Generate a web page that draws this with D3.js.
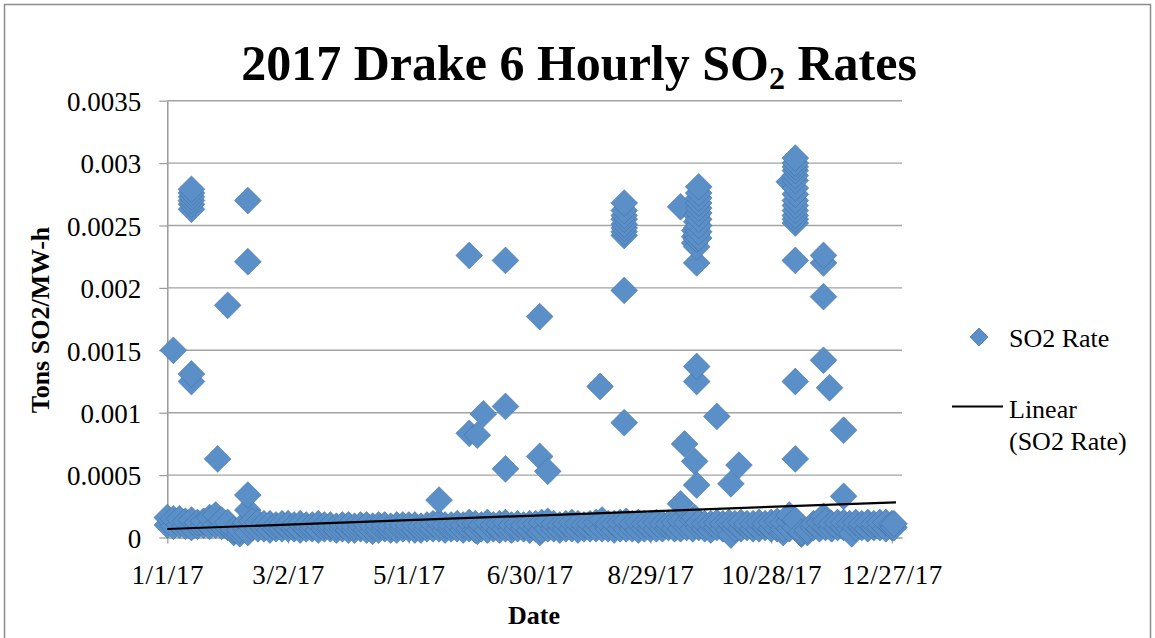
<!DOCTYPE html>
<html>
<head>
<meta charset="utf-8">
<script src="https://cdn.jsdelivr.net/npm/d3@7"></script>
<style>
  html, body { margin: 0; padding: 0; background: #ffffff; }
  svg { display: block; }
  text { font-family: "Liberation Serif", "Times New Roman", serif; fill: #000; }
</style>
</head>
<body>
<svg id="chart" width="1155" height="638"></svg>
<script>
// ---- Axis ticks ----
const yTicks = [0, 0.0005, 0.001, 0.0015, 0.002, 0.0025, 0.003, 0.0035];
const yTickLabels = ["0", "0.0005", "0.001", "0.0015", "0.002", "0.0025", "0.003", "0.0035"];
const xTickLabels = ["1/1/17", "3/2/17", "5/1/17", "6/30/17", "8/29/17", "10/28/17", "12/27/17"];

// ---- Routine hourly readings (upper / lower edge of the daily spread) ----
const bandDates = [
  "1/1","1/4","1/7","1/10","1/13","1/16","1/19","1/22","1/25","1/28","1/31",
  "2/3","2/6","2/9","2/12","2/15","2/18","2/21","2/24","2/27",
  "3/2","3/5","3/8","3/11","3/14","3/17","3/20","3/23","3/26","3/29",
  "4/1","4/4","4/7","4/10","4/13","4/16","4/19","4/22","4/25","4/28",
  "5/1","5/4","5/7","5/10","5/13","5/16","5/19","5/22","5/25","5/28","5/31",
  "6/3","6/6","6/9","6/12","6/15","6/18","6/21","6/24","6/27","6/30",
  "7/3","7/6","7/9","7/12","7/15","7/18","7/21","7/24","7/27","7/30",
  "8/2","8/5","8/8","8/11","8/14","8/17","8/20","8/23","8/26","8/29",
  "9/1","9/4","9/7","9/10","9/13","9/16","9/19","9/22","9/25","9/28",
  "10/1","10/4","10/7","10/10","10/13","10/16","10/19","10/22","10/25","10/28","10/31",
  "11/3","11/6","11/9","11/12","11/15","11/18","11/21","11/24","11/27","11/30",
  "12/3","12/6","12/9","12/12","12/15","12/18","12/21","12/24","12/27","12/28"
];
const bandUpper = [
  0.00016,0.00015,0.00015,0.00013,0.00014,0.00012,0.00013,0.00016,0.00018,0.00014,0.00012,
  0.00006,0.00006,0.00012,0.00013,0.00012,0.00011,0.00011,0.00010,0.00011,
  0.00011,0.00010,0.00011,0.00010,0.00010,0.00011,0.00010,0.00010,0.00009,0.00010,
  0.00010,0.00009,0.00010,0.00010,0.00009,0.00010,0.00010,0.00009,0.00010,0.00010,
  0.00010,0.00010,0.00009,0.00010,0.00011,0.00012,0.00010,0.00010,0.00011,0.00010,0.00012,
  0.00011,0.00010,0.00012,0.00010,0.00011,0.00012,0.00010,0.00011,0.00010,0.00011,
  0.00011,0.00012,0.00013,0.00011,0.00010,0.00011,0.00012,0.00011,0.00010,0.00011,
  0.00012,0.00014,0.00011,0.00011,0.00012,0.00013,0.00011,0.00012,0.00011,0.00011,
  0.00012,0.00011,0.00011,0.00012,0.00013,0.00012,0.00014,0.00012,0.00011,0.00011,
  0.00012,0.00011,0.00012,0.00011,0.00012,0.00011,0.00011,0.00012,0.00011,0.00012,0.00013,
  0.00012,0.00013,0.00014,0.00004,0.00006,0.00011,0.00012,0.00013,0.00011,0.00012,
  0.00012,0.00011,0.00012,0.00011,0.00012,0.00011,0.00012,0.00012,0.00011,0.00011
];
const bandLower = [
  0.00010,0.00009,0.00010,0.00009,0.00008,0.00009,0.00010,0.00009,0.00010,0.00009,0.00008,
  0.00004,0.00003,0.00007,0.00008,0.00007,0.00007,0.00006,0.00007,0.00007,
  0.00007,0.00007,0.00006,0.00007,0.00007,0.00006,0.00007,0.00007,0.00006,0.00007,
  0.00006,0.00006,0.00007,0.00006,0.00005,0.00006,0.00007,0.00006,0.00006,0.00007,
  0.00007,0.00006,0.00006,0.00007,0.00007,0.00007,0.00006,0.00007,0.00007,0.00006,0.00007,
  0.00006,0.00007,0.00006,0.00007,0.00006,0.00007,0.00006,0.00007,0.00007,0.00006,
  0.00007,0.00006,0.00007,0.00007,0.00006,0.00007,0.00007,0.00006,0.00007,0.00007,
  0.00007,0.00007,0.00007,0.00006,0.00007,0.00007,0.00007,0.00006,0.00007,0.00007,
  0.00007,0.00007,0.00008,0.00007,0.00007,0.00008,0.00007,0.00008,0.00007,0.00006,
  0.00008,0.00007,0.00006,0.00007,0.00007,0.00008,0.00007,0.00007,0.00008,0.00007,0.00007,
  0.00007,0.00007,0.00008,0.00003,0.00004,0.00008,0.00007,0.00008,0.00007,0.00008,
  0.00008,0.00007,0.00008,0.00008,0.00007,0.00008,0.00008,0.00007,0.00008,0.00008
];

// ---- Excursion hours (date, rate) ----
const peakDates = [
  "1/4",
  "1/13","1/13","1/13","1/13","1/13","1/13","1/13","1/13",
  "1/26","1/31",
  "2/10","2/10","2/10","2/10","2/10",
  "5/16","5/31","5/31","6/4","6/4","6/7",
  "6/18","6/18","6/18",
  "7/5","7/5","7/5","7/9",
  "8/4",
  "8/16","8/16","8/16","8/16","8/16","8/16","8/16","8/16","8/16","8/16",
  "9/13","9/13","9/15","9/20","9/20",
  "9/20","9/20","9/20",
  "9/21","9/21","9/21","9/21","9/21","9/21","9/21","9/21","9/21","9/21",
  "9/22","9/22","9/22","9/22","9/22","9/22","9/22","9/22","9/22","9/22",
  "10/1","10/8","10/8","10/12",
  "11/3","11/6","11/6",
  "11/9","11/9","11/9","11/9","11/9","11/9","11/9","11/9","11/9",
  "11/9","11/9","11/9","11/9","11/9","11/9","11/9","11/9",
  "11/12",
  "11/23","11/23","11/23","11/23","11/23",
  "11/26","12/3","12/3","12/7"
];
const peakValues = [
  0.0015,
  0.00125,0.00131,0.00263,0.00267,0.0027,0.00273,0.00276,0.00279,
  0.00063,0.00186,
  0.00004,0.00022,0.00034,0.00221,0.0027,
  0.0003,0.000835,0.00226,0.00005,0.00082,0.00099,
  0.00055,0.00105,0.00222,
  0.00004,0.00065,0.00177,0.00053,
  0.00121,
  0.00092,0.00198,0.00242,0.00245,0.00248,0.00251,0.00255,0.00258,0.00262,0.00268,
  0.00027,0.00265,0.00075,0.00016,0.00061,
  0.00236,0.00241,0.00246,
  0.00042,0.00125,0.00137,0.0022,0.00233,0.00239,0.00243,0.00248,0.00253,0.00258,
  0.0024,0.00245,0.0025,0.00255,0.0026,0.00264,0.00268,0.00272,0.00276,0.00281,
  0.00097,0.00002,0.00043,0.00058,
  0.00004,0.00018,0.00285,
  0.00063,0.00125,0.00222,0.00252,0.00255,0.00258,0.00262,0.00266,0.0027,
  0.00275,0.0028,0.00286,0.0029,0.00294,0.00297,0.003,0.00304,
  0.00003,
  0.00017,0.00142,0.00193,0.0022,0.00226,
  0.0012,0.00033,0.00086,0.00003
];

// ---- Linear trend endpoints ----
const trendDates = ["1/1", "12/29"];
const trendValues = [0.000068, 0.000282];

// ---------------------------------------------------------------
const parseDay = d3.timeParse("%m/%d/%Y");
const toDate = s => parseDay(s + "/2017");
const parseTick = d3.timeParse("%m/%d/%y");

const svg = d3.select("#chart");
const plot = { left: 167.3, right: 902, top: 100.7, bottom: 537.5 };

const x = d3.scaleTime()
  .domain([new Date(2017, 0, 1), new Date(2018, 0, 1)])
  .range([plot.left, plot.right]);
const y = d3.scaleLinear()
  .domain([0, 0.0035])
  .range([plot.bottom, plot.top]);

// outer chart frame
svg.append("rect")
  .attr("x", 4.5).attr("y", 4.5)
  .attr("width", 1146).attr("height", 640)
  .attr("fill", "none").attr("stroke", "#8c8c8c").attr("stroke-width", 1.5);

// horizontal gridlines
svg.append("g").selectAll("line")
  .data(yTicks.filter(v => v > 0))
  .join("line")
  .attr("x1", plot.left).attr("x2", plot.right)
  .attr("y1", d => y(d)).attr("y2", d => y(d))
  .attr("stroke", "#a3a3a3").attr("stroke-width", 1.4);

// y axis
const yAxis = svg.append("g")
  .attr("transform", `translate(${plot.left},0)`)
  .call(d3.axisLeft(y).tickValues(yTicks).tickFormat((d, i) => yTickLabels[i]).tickSize(8).tickSizeOuter(0));
yAxis.select(".domain").attr("stroke", "#9a9a9a").attr("stroke-width", 1.5);
yAxis.selectAll(".tick line").attr("stroke", "#9a9a9a").attr("stroke-width", 1.2);
yAxis.selectAll(".tick text")
  .attr("x", -26).attr("dy", "0.36em")
  .style("font-family", "'Liberation Serif', serif").style("font-size", "27px").attr("fill", "#000");

// x axis
const xTickDates = xTickLabels.map(s => parseTick(s));
const xAxis = svg.append("g")
  .attr("transform", `translate(0,${plot.bottom})`)
  .call(d3.axisBottom(x).tickValues(xTickDates).tickFormat((d, i) => xTickLabels[i]).tickSize(6).tickSizeOuter(0));
xAxis.select(".domain").attr("stroke", "#9a9a9a").attr("stroke-width", 1.5);
xAxis.selectAll(".tick line").attr("stroke", "#9a9a9a").attr("stroke-width", 1.2);
xAxis.selectAll(".tick text")
  .attr("y", 27).attr("dy", "0.71em")
  .style("font-family", "'Liberation Serif', serif").style("font-size", "27px")
  .style("letter-spacing", "0.6px").attr("fill", "#000");

// assemble every reading, in date order with higher rates drawn last
const points = [];
bandDates.forEach((d, i) => {
  points.push({ date: toDate(d), value: bandLower[i] });
  points.push({ date: toDate(d), value: bandUpper[i] });
});
peakDates.forEach((d, i) => points.push({ date: toDate(d), value: peakValues[i] }));
points.sort((a, b) => (a.date - b.date) || (a.value - b.value));

const diamond = r => `M0,${-r}L${r},0L0,${r}L${-r},0Z`;

svg.append("g").selectAll("path")
  .data(points)
  .join("path")
  .attr("d", diamond(13.4))
  .attr("transform", d => `translate(${x(d.date)},${y(d.value)})`)
  .attr("fill", "#5b8fc8")
  .attr("stroke", "#41709f")
  .attr("stroke-width", 0.7)
  .attr("stroke-opacity", 0.8);

// linear trend line
const trend = trendDates.map((d, i) => ({ date: toDate(d), value: trendValues[i] }));
svg.append("path")
  .datum(trend)
  .attr("d", d3.line().x(d => x(d.date)).y(d => y(d.value)))
  .attr("stroke", "#000").attr("stroke-width", 2.2).attr("fill", "none");

// title with subscript
const title = svg.append("text")
  .attr("x", 579).attr("y", 80)
  .attr("text-anchor", "middle")
  .style("font-family", "'Liberation Serif', serif")
  .style("font-size", "50px").style("font-weight", "bold");
title.append("tspan").text("2017 Drake 6 Hourly SO");
title.append("tspan").attr("dy", 9).style("font-size", "32px").text("2");
title.append("tspan").attr("dy", -9).text(" Rates");

// axis titles
svg.append("text")
  .attr("transform", "translate(49,320) rotate(-90)")
  .attr("text-anchor", "middle")
  .style("font-size", "26px").style("font-weight", "bold")
  .text("Tons SO2/MW-h");
svg.append("text")
  .attr("x", 534).attr("y", 624)
  .attr("text-anchor", "middle")
  .style("font-size", "26px").style("font-weight", "bold")
  .text("Date");

// legend
const legend = svg.append("g");
legend.append("path")
  .attr("d", diamond(9))
  .attr("transform", "translate(979,337)")
  .attr("fill", "#5b8fc8").attr("stroke", "#41709f").attr("stroke-width", 0.7);
legend.append("text").attr("x", 1009).attr("y", 347)
  .style("font-size", "26px").text("SO2 Rate");
legend.append("line")
  .attr("x1", 952).attr("x2", 1003).attr("y1", 406.5).attr("y2", 406.5)
  .attr("stroke", "#000").attr("stroke-width", 2);
legend.append("text").attr("x", 1009).attr("y", 418)
  .style("font-size", "26px").text("Linear");
legend.append("text").attr("x", 1009).attr("y", 450)
  .style("font-size", "26px").text("(SO2 Rate)");
</script>
</body>
</html>
